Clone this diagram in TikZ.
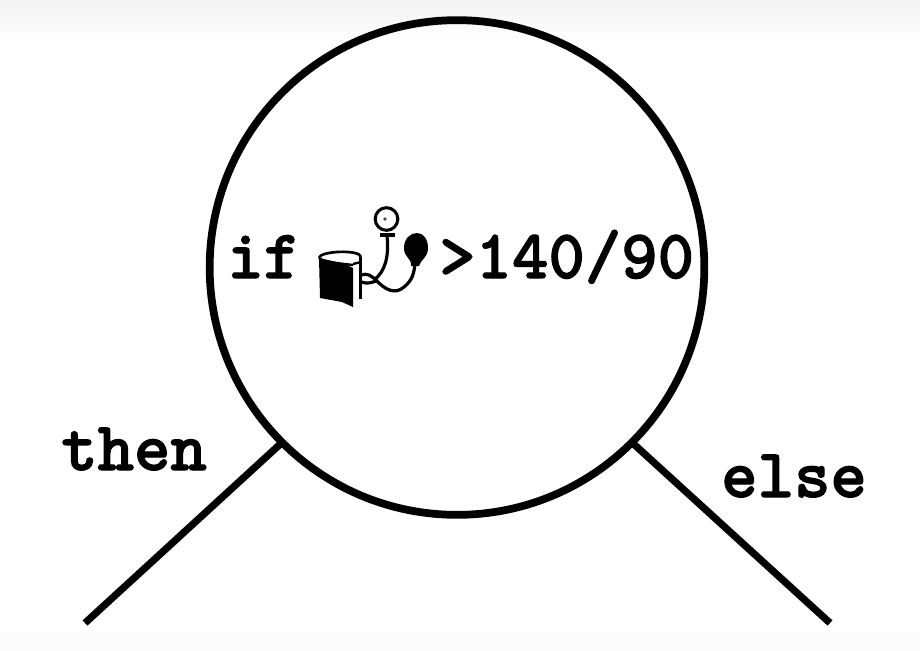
\documentclass[tikz,border=0pt]{standalone}
\usepackage{fontspec}
\newfontfamily\codefont[FakeBold=1.6]{lmmonolt10-bold.otf}
\begin{document}
\begin{tikzpicture}[x=0.75pt,y=-0.75pt,
  mainline/.style={line width=5.4pt,line cap=butt,black},
  thin tube/.style={line width=2.4pt,black},
  codetext/.style={font=\codefont\fontsize{52}{52}\selectfont,inner sep=0pt,anchor=base west,black}]
\useasboundingbox (0,0) rectangle (920,650);
\shade[top color=black!5,bottom color=white] (0,0) rectangle (920,42);
\fill[black!1.5] (0,632) rectangle (920,650);
\node[circle,draw,line width=5.8pt,minimum size=371pt,inner sep=0pt,outer sep=0pt] (c) at (457,267.5) {};
\coordinate (thenend) at (85,623);
\coordinate (elseend) at (830,623);
\draw[mainline] (c.225) -- (thenend);
\draw[mainline] (c.-45) -- (elseend);
\node[codetext] (iftext) at (227,278) {if};
\node[codetext] (cond) at (439,278) {>140/90};
\node[codetext] (thentext) at (61,470) {then};
\node[codetext] (elsetext) at (721,497) {else};
% cuff icon
\fill[black] (319,258) -- (345,264) -- (353,268) -- (353,307) -- (342,302) -- (320,298) -- cycle;
\draw[line width=2pt] (319,258) .. controls (319,251) and (360,249) .. (361,257);
\draw[line width=1.8pt] (319,258) .. controls (322,262) and (345,264) .. (353,265);
\draw[line width=2.1pt] (360.5,257) -- (360.5,299);
\draw[line width=1.8pt] (353,264) -- (361,262);
% gauge
\node[circle,draw,line width=2.3pt,minimum size=17pt,inner sep=0pt] (gauge) at (386.5,219) {};
\fill[black!70] (385,219) circle (1.8);
\draw[line width=2.6pt] (380,235) -- (395,235);
\draw[thin tube] (387,236) .. controls (389,255) and (386,271) .. (374,280);
\draw[thin tube] (361,275) .. controls (367,273) and (372,275) .. (377,282);
\draw[thin tube] (361,282) .. controls (368,284) and (371,283) .. (378,280);
\draw[thin tube] (375,279) .. controls (385,290) and (395,295) .. (404,287) .. controls (413,280) and (414,272) .. (415,264);
% bulb
\fill[black] (411,266) .. controls (412,258) and (404,258) .. (404,248) .. controls (404,238) and (411,233) .. (417,233) .. controls (424,233) and (428,240) .. (428,248) .. controls (428,258) and (420,260) .. (419,266) -- cycle;
\end{tikzpicture}
\end{document}
